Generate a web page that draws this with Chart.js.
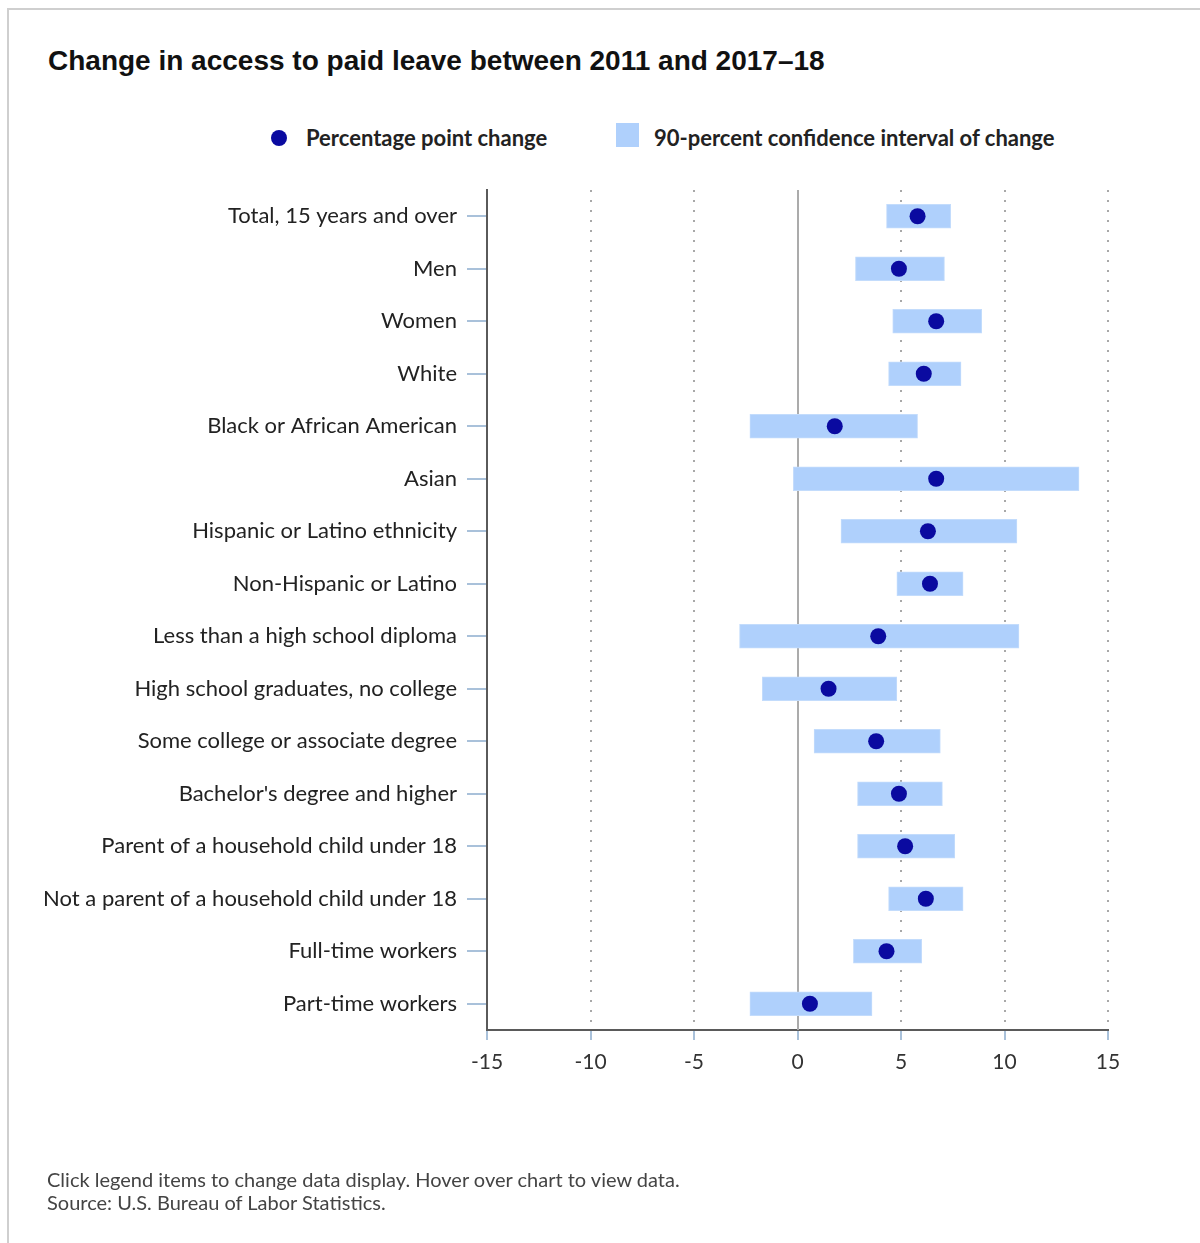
<!DOCTYPE html>
<html>
<head>
<meta charset="utf-8">
<script src="https://cdn.jsdelivr.net/npm/chart.js@4.4.1/dist/chart.umd.min.js"></script>
<style>
  html, body { margin: 0; padding: 0; background: #fff; }
  body { width: 1200px; height: 1243px; position: relative; overflow: hidden; font-family: Lato, "Open Sans", sans-serif; }
  #frame { position: absolute; left: 7px; top: 8px; width: 1200px; height: 1300px; border-left: 2px solid #cfcfcf; border-top: 2px solid #cfcfcf; box-sizing: border-box; }
  #title { position: absolute; left: 48px; top: 44px; font-family: "Liberation Sans", Arial, sans-serif; font-weight: bold; font-size: 28px; line-height: 34px; color: #111; white-space: nowrap; }
  .leg { position: absolute; top: 124px; font-family: Lato, sans-serif; font-weight: bold; font-size: 22px; line-height: 28px; color: #222; white-space: nowrap; }
  .dot { position: absolute; left: 271px; top: 130px; width: 16px; height: 16px; border-radius: 50%; background: #0a0aa0; }
  .sq { position: absolute; left: 616px; top: 123px; width: 23px; height: 24px; background: #afd0fc; }
  #foot { position: absolute; left: 47px; top: 1168px; font-family: Lato, sans-serif; font-size: 20px; color: #444; line-height: 23px; white-space: nowrap; }
  canvas { position: absolute; left: 0; top: 0; }
</style>
</head>
<body>
<div id="frame"></div>
<div id="title">Change in access to paid leave between 2011 and 2017–18</div>
<div class="dot"></div>
<div class="leg" style="left:306px">Percentage point change</div>
<div class="sq"></div>
<div class="leg" style="left:654px">90-percent confidence interval of change</div>
<canvas id="c" width="1200" height="1243"></canvas>
<div id="foot">Click legend items to change data display. Hover over chart to view data.<br>Source: U.S. Bureau of Labor Statistics.</div>
<script>
const categories = [
  "Total, 15 years and over",
  "Men",
  "Women",
  "White",
  "Black or African American",
  "Asian",
  "Hispanic or Latino ethnicity",
  "Non-Hispanic or Latino",
  "Less than a high school diploma",
  "High school graduates, no college",
  "Some college or associate degree",
  "Bachelor's degree and higher",
  "Parent of a household child under 18",
  "Not a parent of a household child under 18",
  "Full-time workers",
  "Part-time workers"
];
const pointChange = [5.8, 4.9, 6.7, 6.1, 1.8, 6.7, 6.3, 6.4, 3.9, 1.5, 3.8, 4.9, 5.2, 6.2, 4.3, 0.6];
const ciLow  = [4.3, 2.8, 4.6, 4.4, -2.3, -0.2, 2.1, 4.8, -2.8, -1.7, 0.8, 2.9, 2.9, 4.4, 2.7, -2.3];
const ciHigh = [7.4, 7.1, 8.9, 7.9, 5.8, 13.6, 10.6, 8.0, 10.7, 4.8, 6.9, 7.0, 7.6, 8.0, 6.0, 3.6];
const xTickValues = [-15, -10, -5, 0, 5, 10, 15];

const gridPlugin = {
  id: 'customGrid',
  beforeDatasetsDraw(chart) {
    const { ctx, chartArea, scales } = chart;
    const xs = scales.x;
    ctx.save();
    xTickValues.forEach(v => {
      if (v === xs.min) return;
      const x = Math.round(xs.getPixelForValue(v));
      ctx.beginPath();
      if (v === 0) {
        ctx.setLineDash([]);
        ctx.strokeStyle = '#ababab';
        ctx.lineWidth = 2;
      } else {
        ctx.setLineDash([2, 8]);
        ctx.strokeStyle = '#a8a8a8';
        ctx.lineWidth = 2;
      }
      ctx.moveTo(x, chartArea.top);
      ctx.lineTo(x, chartArea.bottom);
      ctx.stroke();
    });
    ctx.restore();
  }
};

new Chart(document.getElementById('c'), {
  type: 'bar',
  data: {
    labels: categories,
    datasets: [
      {
        type: 'line',
        label: 'Percentage point change',
        data: pointChange,
        showLine: false,
        pointRadius: 8,
        pointHoverRadius: 8,
        pointBackgroundColor: '#0a0aa0',
        pointBorderColor: '#0a0aa0',
        pointBorderWidth: 0,
        order: 0
      },
      {
        type: 'bar',
        label: '90-percent confidence interval of change',
        data: ciLow.map((l, i) => [l, ciHigh[i]]),
        backgroundColor: '#afd0fc',
        borderColor: '#c3dcfc',
        borderWidth: 1,
        borderSkipped: false,
        barThickness: 24,
        order: 1
      }
    ]
  },
  options: {
    indexAxis: 'y',
    responsive: false,
    animation: false,
    layout: { padding: { top: 190, left: 0, right: 92, bottom: 163 } },
    plugins: { legend: { display: false }, tooltip: { enabled: false }, title: { display: false } },
    scales: {
      y: {
        type: 'category',
        offset: true,
        afterFit(scale) { scale.width = 487; },
        grid: { display: true, drawOnChartArea: false, offset: false, tickLength: 20, color: '#a9c1da', lineWidth: 2 },
        border: { display: true, color: '#5a5a5a', width: 2 },
        ticks: { autoSkip: false, color: '#222', padding: 10, font: { family: 'Lato', size: 22 } }
      },
      x: {
        type: 'linear',
        min: -15,
        max: 15,
        afterFit(scale) { scale.height = 50; },
        afterBuildTicks(scale) { scale.ticks = xTickValues.map(v => ({ value: v })); },
        grid: { display: true, drawOnChartArea: false, tickLength: 10, color: '#a9c1da', lineWidth: 2 },
        border: { display: true, color: '#5a5a5a', width: 2 },
        ticks: { color: '#333', padding: 10, font: { family: 'Lato', size: 21 } }
      }
    }
  },
  plugins: [gridPlugin]
});
</script>
</body>
</html>
